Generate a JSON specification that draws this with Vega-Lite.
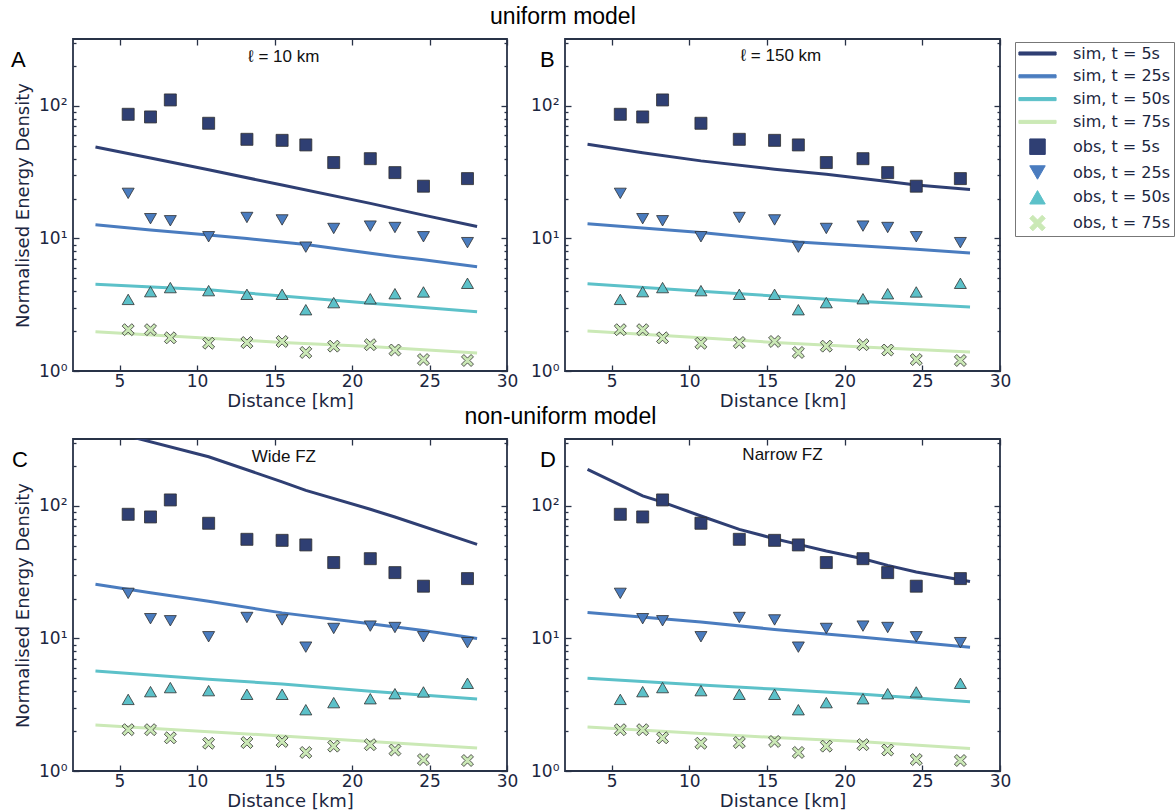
{
 "$schema": "https://vega.github.io/schema/vega-lite/v6.json",
 "background": "white",
 "padding": {"left": 10, "top": 5, "right": 5, "bottom": 5},
 "config": {
  "font": "DejaVu Sans",
  "view": {"stroke": "#283247", "strokeWidth": 1.8},
  "axis": {"grid": false, "domain": false, "labelFont": "DejaVu Sans", "labelFontSize": 17, "labelColor": "#1c2640", "titleFont": "DejaVu Sans", "titleFontSize": 18, "titleFontWeight": "normal", "titleColor": "#1c2640", "tickColor": "#283247", "tickWidth": 1.3, "labelFlush": false, "labelOverlap": false},
  "legend": {"symbolSize": 240, "symbolStrokeWidth": 1, "labelFont": "DejaVu Sans", "labelFontSize": 16, "labelColor": "#1c2640", "strokeColor": "#777", "padding": 3, "rowPadding": 5.8, "fillColor": "white", "labelOffset": 27, "symbolOffset": 11},
  "title": {"font": "Liberation Sans", "fontWeight": "normal", "color": "#000"}
 },
 "datasets": {
  "obs": [
   {"series": "obs, t = 5s", "x": 5.56, "y": 86.5}, {"series": "obs, t = 5s", "x": 7.0, "y": 82.6}, {"series": "obs, t = 5s", "x": 8.28, "y": 111}, {"series": "obs, t = 5s", "x": 10.75, "y": 74}, {"series": "obs, t = 5s", "x": 13.22, "y": 56}, {"series": "obs, t = 5s", "x": 15.49, "y": 55}, {"series": "obs, t = 5s", "x": 17.02, "y": 50.8}, {"series": "obs, t = 5s", "x": 18.82, "y": 37.4}, {"series": "obs, t = 5s", "x": 21.18, "y": 40}, {"series": "obs, t = 5s", "x": 22.77, "y": 31.4}, {"series": "obs, t = 5s", "x": 24.61, "y": 24.8}, {"series": "obs, t = 5s", "x": 27.45, "y": 28.3},
   {"series": "obs, t = 25s", "x": 5.56, "y": 21.9}, {"series": "obs, t = 25s", "x": 7.0, "y": 14.1}, {"series": "obs, t = 25s", "x": 8.28, "y": 13.6}, {"series": "obs, t = 25s", "x": 10.75, "y": 10.3}, {"series": "obs, t = 25s", "x": 13.22, "y": 14.4}, {"series": "obs, t = 25s", "x": 15.49, "y": 13.8}, {"series": "obs, t = 25s", "x": 17.02, "y": 8.6}, {"series": "obs, t = 25s", "x": 18.82, "y": 11.9}, {"series": "obs, t = 25s", "x": 21.18, "y": 12.4}, {"series": "obs, t = 25s", "x": 22.77, "y": 12.1}, {"series": "obs, t = 25s", "x": 24.61, "y": 10.3}, {"series": "obs, t = 25s", "x": 27.45, "y": 9.3},
   {"series": "obs, t = 50s", "x": 5.56, "y": 3.47}, {"series": "obs, t = 50s", "x": 7.0, "y": 3.97}, {"series": "obs, t = 50s", "x": 8.28, "y": 4.26}, {"series": "obs, t = 50s", "x": 10.75, "y": 4.04}, {"series": "obs, t = 50s", "x": 13.22, "y": 3.79}, {"series": "obs, t = 50s", "x": 15.49, "y": 3.79}, {"series": "obs, t = 50s", "x": 17.02, "y": 2.9}, {"series": "obs, t = 50s", "x": 18.82, "y": 3.28}, {"series": "obs, t = 50s", "x": 21.18, "y": 3.51}, {"series": "obs, t = 50s", "x": 22.77, "y": 3.83}, {"series": "obs, t = 50s", "x": 24.61, "y": 3.95}, {"series": "obs, t = 50s", "x": 27.45, "y": 4.59},
   {"series": "obs, t = 75s", "x": 5.56, "y": 2.05}, {"series": "obs, t = 75s", "x": 7.0, "y": 2.05}, {"series": "obs, t = 75s", "x": 8.28, "y": 1.78}, {"series": "obs, t = 75s", "x": 10.75, "y": 1.62}, {"series": "obs, t = 75s", "x": 13.22, "y": 1.64}, {"series": "obs, t = 75s", "x": 15.49, "y": 1.67}, {"series": "obs, t = 75s", "x": 17.02, "y": 1.38}, {"series": "obs, t = 75s", "x": 18.82, "y": 1.54}, {"series": "obs, t = 75s", "x": 21.18, "y": 1.58}, {"series": "obs, t = 75s", "x": 22.77, "y": 1.44}, {"series": "obs, t = 75s", "x": 24.61, "y": 1.22}, {"series": "obs, t = 75s", "x": 27.45, "y": 1.2}
  ],
  "sim": [
   {"panel": "A", "series": "sim, t = 5s", "x": 3.45, "y": 49}, {"panel": "A", "series": "sim, t = 5s", "x": 7, "y": 40.5}, {"panel": "A", "series": "sim, t = 5s", "x": 10.75, "y": 33}, {"panel": "A", "series": "sim, t = 5s", "x": 15.49, "y": 25.3}, {"panel": "A", "series": "sim, t = 5s", "x": 21.18, "y": 18.4}, {"panel": "A", "series": "sim, t = 5s", "x": 24.61, "y": 15}, {"panel": "A", "series": "sim, t = 5s", "x": 28.07, "y": 12.3},
   {"panel": "A", "series": "sim, t = 25s", "x": 3.45, "y": 12.7}, {"panel": "A", "series": "sim, t = 25s", "x": 7, "y": 11.6}, {"panel": "A", "series": "sim, t = 25s", "x": 10.75, "y": 10.6}, {"panel": "A", "series": "sim, t = 25s", "x": 13.22, "y": 10}, {"panel": "A", "series": "sim, t = 25s", "x": 17.02, "y": 9}, {"panel": "A", "series": "sim, t = 25s", "x": 22.77, "y": 7.3}, {"panel": "A", "series": "sim, t = 25s", "x": 24.61, "y": 6.9}, {"panel": "A", "series": "sim, t = 25s", "x": 28.07, "y": 6.13},
   {"panel": "A", "series": "sim, t = 50s", "x": 3.45, "y": 4.51}, {"panel": "A", "series": "sim, t = 50s", "x": 10.75, "y": 4.1}, {"panel": "A", "series": "sim, t = 50s", "x": 15.49, "y": 3.68}, {"panel": "A", "series": "sim, t = 50s", "x": 21.18, "y": 3.25}, {"panel": "A", "series": "sim, t = 50s", "x": 28.07, "y": 2.8},
   {"panel": "A", "series": "sim, t = 75s", "x": 3.45, "y": 1.98}, {"panel": "A", "series": "sim, t = 75s", "x": 10.75, "y": 1.77}, {"panel": "A", "series": "sim, t = 75s", "x": 15.49, "y": 1.64}, {"panel": "A", "series": "sim, t = 75s", "x": 21.18, "y": 1.53}, {"panel": "A", "series": "sim, t = 75s", "x": 28.07, "y": 1.37},
   {"panel": "B", "series": "sim, t = 5s", "x": 3.45, "y": 51.4}, {"panel": "B", "series": "sim, t = 5s", "x": 7, "y": 44.4}, {"panel": "B", "series": "sim, t = 5s", "x": 10.75, "y": 38.5}, {"panel": "B", "series": "sim, t = 5s", "x": 15.49, "y": 33.3}, {"panel": "B", "series": "sim, t = 5s", "x": 18.82, "y": 30.5}, {"panel": "B", "series": "sim, t = 5s", "x": 22.77, "y": 26.9}, {"panel": "B", "series": "sim, t = 5s", "x": 24.61, "y": 25.3}, {"panel": "B", "series": "sim, t = 5s", "x": 28.07, "y": 23.4},
   {"panel": "B", "series": "sim, t = 25s", "x": 3.45, "y": 12.9}, {"panel": "B", "series": "sim, t = 25s", "x": 10.75, "y": 11.1}, {"panel": "B", "series": "sim, t = 25s", "x": 17.02, "y": 9.4}, {"panel": "B", "series": "sim, t = 25s", "x": 24.61, "y": 8.3}, {"panel": "B", "series": "sim, t = 25s", "x": 28.07, "y": 7.78},
   {"panel": "B", "series": "sim, t = 50s", "x": 3.45, "y": 4.56}, {"panel": "B", "series": "sim, t = 50s", "x": 10.75, "y": 4.0}, {"panel": "B", "series": "sim, t = 50s", "x": 15.49, "y": 3.68}, {"panel": "B", "series": "sim, t = 50s", "x": 21.18, "y": 3.35}, {"panel": "B", "series": "sim, t = 50s", "x": 28.07, "y": 3.04},
   {"panel": "B", "series": "sim, t = 75s", "x": 3.45, "y": 2.0}, {"panel": "B", "series": "sim, t = 75s", "x": 10.75, "y": 1.78}, {"panel": "B", "series": "sim, t = 75s", "x": 15.49, "y": 1.64}, {"panel": "B", "series": "sim, t = 75s", "x": 21.18, "y": 1.52}, {"panel": "B", "series": "sim, t = 75s", "x": 28.07, "y": 1.39},
   {"panel": "C", "series": "sim, t = 5s", "x": 3.45, "y": 390}, {"panel": "C", "series": "sim, t = 5s", "x": 6.57, "y": 314}, {"panel": "C", "series": "sim, t = 5s", "x": 10.75, "y": 235}, {"panel": "C", "series": "sim, t = 5s", "x": 15.49, "y": 152}, {"panel": "C", "series": "sim, t = 5s", "x": 17.02, "y": 131}, {"panel": "C", "series": "sim, t = 5s", "x": 21.18, "y": 94.4}, {"panel": "C", "series": "sim, t = 5s", "x": 22.77, "y": 82.6}, {"panel": "C", "series": "sim, t = 5s", "x": 28.07, "y": 51.3},
   {"panel": "C", "series": "sim, t = 25s", "x": 3.45, "y": 25.7}, {"panel": "C", "series": "sim, t = 25s", "x": 7, "y": 22.1}, {"panel": "C", "series": "sim, t = 25s", "x": 10.75, "y": 19.1}, {"panel": "C", "series": "sim, t = 25s", "x": 15.49, "y": 15.6}, {"panel": "C", "series": "sim, t = 25s", "x": 21.18, "y": 12.9}, {"panel": "C", "series": "sim, t = 25s", "x": 24.61, "y": 11.5}, {"panel": "C", "series": "sim, t = 25s", "x": 28.07, "y": 10},
   {"panel": "C", "series": "sim, t = 50s", "x": 3.45, "y": 5.68}, {"panel": "C", "series": "sim, t = 50s", "x": 10.75, "y": 4.93}, {"panel": "C", "series": "sim, t = 50s", "x": 15.49, "y": 4.53}, {"panel": "C", "series": "sim, t = 50s", "x": 21.18, "y": 4.0}, {"panel": "C", "series": "sim, t = 50s", "x": 28.07, "y": 3.49},
   {"panel": "C", "series": "sim, t = 75s", "x": 3.45, "y": 2.22}, {"panel": "C", "series": "sim, t = 75s", "x": 10.75, "y": 1.98}, {"panel": "C", "series": "sim, t = 75s", "x": 15.49, "y": 1.84}, {"panel": "C", "series": "sim, t = 75s", "x": 21.18, "y": 1.67}, {"panel": "C", "series": "sim, t = 75s", "x": 28.07, "y": 1.49},
   {"panel": "D", "series": "sim, t = 5s", "x": 3.45, "y": 189}, {"panel": "D", "series": "sim, t = 5s", "x": 7, "y": 119}, {"panel": "D", "series": "sim, t = 5s", "x": 8.28, "y": 107}, {"panel": "D", "series": "sim, t = 5s", "x": 10.75, "y": 84}, {"panel": "D", "series": "sim, t = 5s", "x": 13.22, "y": 66.6}, {"panel": "D", "series": "sim, t = 5s", "x": 15.49, "y": 56.6}, {"panel": "D", "series": "sim, t = 5s", "x": 17.02, "y": 51.3}, {"panel": "D", "series": "sim, t = 5s", "x": 18.82, "y": 45.7}, {"panel": "D", "series": "sim, t = 5s", "x": 21.18, "y": 40}, {"panel": "D", "series": "sim, t = 5s", "x": 22.77, "y": 35.6}, {"panel": "D", "series": "sim, t = 5s", "x": 24.61, "y": 31.7}, {"panel": "D", "series": "sim, t = 5s", "x": 28.07, "y": 26.9},
   {"panel": "D", "series": "sim, t = 25s", "x": 3.45, "y": 15.7}, {"panel": "D", "series": "sim, t = 25s", "x": 10.75, "y": 13.3}, {"panel": "D", "series": "sim, t = 25s", "x": 15.49, "y": 11.7}, {"panel": "D", "series": "sim, t = 25s", "x": 21.18, "y": 10.2}, {"panel": "D", "series": "sim, t = 25s", "x": 24.61, "y": 9.35}, {"panel": "D", "series": "sim, t = 25s", "x": 28.07, "y": 8.58},
   {"panel": "D", "series": "sim, t = 50s", "x": 3.45, "y": 5.02}, {"panel": "D", "series": "sim, t = 50s", "x": 10.75, "y": 4.45}, {"panel": "D", "series": "sim, t = 50s", "x": 15.49, "y": 4.15}, {"panel": "D", "series": "sim, t = 50s", "x": 21.18, "y": 3.8}, {"panel": "D", "series": "sim, t = 50s", "x": 28.07, "y": 3.33},
   {"panel": "D", "series": "sim, t = 75s", "x": 3.45, "y": 2.15}, {"panel": "D", "series": "sim, t = 75s", "x": 10.75, "y": 1.92}, {"panel": "D", "series": "sim, t = 75s", "x": 15.49, "y": 1.79}, {"panel": "D", "series": "sim, t = 75s", "x": 21.18, "y": 1.66}, {"panel": "D", "series": "sim, t = 75s", "x": 28.07, "y": 1.48}
  ],
  "notes": [
   {"panel": "A", "label": "ℓ = 10 km", "x": 15.6, "y": 234},
   {"panel": "B", "label": "ℓ = 150 km", "x": 15.9, "y": 240},
   {"panel": "C", "label": "Wide FZ", "x": 15.6, "y": 235},
   {"panel": "D", "label": "Narrow FZ", "x": 16.0, "y": 241}
  ]
 },
 "spacing": -6,
 "vconcat": [
  {
   "title": {"text": "uniform model", "fontSize": 23, "anchor": "middle", "offset": 4, "dx": 52},
   "spacing": 10,
   "hconcat": [
    {
     "width": 434, "height": 332,
     "title": {"text": "A", "anchor": "start", "frame": "group", "dx": -62, "dy": 55, "offset": 0, "baseline": "alphabetic", "fontSize": 22},
     "layer": [
      {
       "data": {"name": "sim"},
       "transform": [{"filter": "datum.panel === 'A'"}],
       "mark": {"type": "line", "clip": true, "strokeWidth": 3},
       "encoding": {
        "x": {"field": "x", "type": "quantitative", "scale": {"domain": [2, 30], "nice": false, "zero": false}, "axis": {"orient": "bottom", "values": [5, 10, 15, 20, 25, 30], "tickSize": -6, "labelPadding": 8, "title": "Distance [km]", "titlePadding": 3}},
        "y": {"field": "y", "type": "quantitative", "scale": {"type": "log", "domain": [1, 320], "nice": false}, "axis": {"orient": "left", "values": [1, 2, 3, 4, 5, 6, 7, 8, 9, 10, 20, 30, 40, 50, 60, 70, 80, 90, 100, 200, 300], "labelExpr": "datum.value === 1 ? '10⁰' : datum.value === 10 ? '10¹' : datum.value === 100 ? '10²' : ''", "tickSize": {"condition": {"test": "datum.value === 1 || datum.value === 10 || datum.value === 100", "value": -6}, "value": -3}, "labelPadding": 12, "title": "Normalised Energy Density", "titlePadding": 6}},
        "color": {"field": "series", "type": "nominal", "scale": {"domain": ["sim, t = 5s", "sim, t = 25s", "sim, t = 50s", "sim, t = 75s", "obs, t = 5s", "obs, t = 25s", "obs, t = 50s", "obs, t = 75s"], "range": ["#2f3f73", "#4a7cbf", "#5cc1c9", "#cbe9b6", "#2f3f73", "#4a7cbf", "#5cc1c9", "#cbe9b6"]}, "legend": {"title": null, "orient": "none", "legendX": 942, "legendY": 3, "encode": {"symbols": {"update": {"fill": {"value": {"expr": "scale('color', datum.value)"}}, "stroke": {"value": {"expr": "indexof(datum.value, 'sim') === 0 ? scale('color', datum.value) : '#303030'"}}}}}}}
       }
      },
      {
       "data": {"name": "obs"},
       "mark": {"type": "point", "filled": true, "size": 144, "stroke": "#303030", "strokeWidth": 0.8, "opacity": 1},
       "encoding": {
        "x": {"field": "x", "type": "quantitative", "scale": {"domain": [2, 30], "nice": false, "zero": false}, "axis": {"orient": "top", "values": [5, 10, 15, 20, 25, 30], "tickSize": -6, "labels": false, "title": null, "minExtent": 0}},
        "y": {"field": "y", "type": "quantitative", "scale": {"type": "log", "domain": [1, 320], "nice": false}, "axis": {"orient": "right", "values": [1, 2, 3, 4, 5, 6, 7, 8, 9, 10, 20, 30, 40, 50, 60, 70, 80, 90, 100, 200, 300], "labels": false, "tickSize": {"condition": {"test": "datum.value === 1 || datum.value === 10 || datum.value === 100", "value": -6}, "value": -3}, "title": null, "minExtent": 0}},
        "color": {"field": "series", "type": "nominal", "legend": {"title": null, "orient": "none", "legendX": 942, "legendY": 3, "encode": {"symbols": {"update": {"fill": {"value": {"expr": "scale('color', datum.value)"}}, "stroke": {"value": {"expr": "indexof(datum.value, 'sim') === 0 ? scale('color', datum.value) : '#303030'"}}}}}}},
        "shape": {"field": "series", "type": "nominal", "scale": {"domain": ["sim, t = 5s", "sim, t = 25s", "sim, t = 50s", "sim, t = 75s", "obs, t = 5s", "obs, t = 25s", "obs, t = 50s", "obs, t = 75s"], "range": ["M-2.4,-0.2H2.4V0.2H-2.4Z", "M-2.4,-0.2H2.4V0.2H-2.4Z", "M-2.4,-0.2H2.4V0.2H-2.4Z", "M-2.4,-0.2H2.4V0.2H-2.4Z", "square", "triangle-down", "triangle-up", "M-1,-0.6L-0.6,-1L0,-0.4L0.6,-1L1,-0.6L0.4,0L1,0.6L0.6,1L0,0.4L-0.6,1L-1,0.6L-0.4,0Z"]}, "legend": {"title": null, "orient": "none", "legendX": 942, "legendY": 3, "encode": {"symbols": {"update": {"fill": {"value": {"expr": "scale('color', datum.value)"}}, "stroke": {"value": {"expr": "indexof(datum.value, 'sim') === 0 ? scale('color', datum.value) : '#303030'"}}}}}}}
       }
      },
      {
       "data": {"name": "notes"},
       "transform": [{"filter": "datum.panel === 'A'"}],
       "mark": {"type": "text", "font": "Liberation Sans", "fontSize": 17, "baseline": "middle", "align": "center", "color": "#111"},
       "encoding": {
        "x": {"field": "x", "type": "quantitative", "scale": {"domain": [2, 30], "nice": false, "zero": false}, "axis": null},
        "y": {"field": "y", "type": "quantitative", "scale": {"type": "log", "domain": [1, 320], "nice": false}, "axis": null},
        "text": {"field": "label"}
       }
      }
     ],
     "resolve": {"axis": {"x": "independent", "y": "independent"}}
    },
    {
     "width": 435, "height": 332,
     "title": {"text": "B", "anchor": "start", "frame": "group", "dx": -25, "dy": 55, "offset": 0, "baseline": "alphabetic", "fontSize": 22},
     "layer": [
      {
       "data": {"name": "sim"},
       "transform": [{"filter": "datum.panel === 'B'"}],
       "mark": {"type": "line", "clip": true, "strokeWidth": 3},
       "encoding": {
        "x": {"field": "x", "type": "quantitative", "scale": {"domain": [2, 30], "nice": false, "zero": false}, "axis": {"orient": "bottom", "values": [5, 10, 15, 20, 25, 30], "tickSize": -6, "labelPadding": 8, "title": "Distance [km]", "titlePadding": 3}},
        "y": {"field": "y", "type": "quantitative", "scale": {"type": "log", "domain": [1, 320], "nice": false}, "axis": {"orient": "left", "values": [1, 2, 3, 4, 5, 6, 7, 8, 9, 10, 20, 30, 40, 50, 60, 70, 80, 90, 100, 200, 300], "labelExpr": "datum.value === 1 ? '10⁰' : datum.value === 10 ? '10¹' : datum.value === 100 ? '10²' : ''", "tickSize": {"condition": {"test": "datum.value === 1 || datum.value === 10 || datum.value === 100", "value": -6}, "value": -3}, "labelPadding": 12, "title": null}},
        "color": {"field": "series", "type": "nominal", "legend": null}
       }
      },
      {
       "data": {"name": "obs"},
       "mark": {"type": "point", "filled": true, "size": 144, "stroke": "#303030", "strokeWidth": 0.8, "opacity": 1},
       "encoding": {
        "x": {"field": "x", "type": "quantitative", "scale": {"domain": [2, 30], "nice": false, "zero": false}, "axis": {"orient": "top", "values": [5, 10, 15, 20, 25, 30], "tickSize": -6, "labels": false, "title": null, "minExtent": 0}},
        "y": {"field": "y", "type": "quantitative", "scale": {"type": "log", "domain": [1, 320], "nice": false}, "axis": {"orient": "right", "values": [1, 2, 3, 4, 5, 6, 7, 8, 9, 10, 20, 30, 40, 50, 60, 70, 80, 90, 100, 200, 300], "labels": false, "tickSize": {"condition": {"test": "datum.value === 1 || datum.value === 10 || datum.value === 100", "value": -6}, "value": -3}, "title": null, "minExtent": 0}},
        "color": {"field": "series", "type": "nominal", "legend": null},
        "shape": {"field": "series", "type": "nominal", "legend": null}
       }
      },
      {
       "data": {"name": "notes"},
       "transform": [{"filter": "datum.panel === 'B'"}],
       "mark": {"type": "text", "font": "Liberation Sans", "fontSize": 17, "baseline": "middle", "align": "center", "color": "#111"},
       "encoding": {
        "x": {"field": "x", "type": "quantitative", "scale": {"domain": [2, 30], "nice": false, "zero": false}, "axis": null},
        "y": {"field": "y", "type": "quantitative", "scale": {"type": "log", "domain": [1, 320], "nice": false}, "axis": null},
        "text": {"field": "label"}
       }
      }
     ],
     "resolve": {"axis": {"x": "independent", "y": "independent"}}
    }
   ]
  },
  {
   "title": {"text": "non-uniform model", "fontSize": 23, "anchor": "middle", "offset": 4, "dx": 49},
   "spacing": 10,
   "hconcat": [
    {
     "width": 434, "height": 332,
     "title": {"text": "C", "anchor": "start", "frame": "group", "dx": -61, "dy": 55, "offset": 0, "baseline": "alphabetic", "fontSize": 22},
     "layer": [
      {
       "data": {"name": "sim"},
       "transform": [{"filter": "datum.panel === 'C'"}],
       "mark": {"type": "line", "clip": true, "strokeWidth": 3},
       "encoding": {
        "x": {"field": "x", "type": "quantitative", "scale": {"domain": [2, 30], "nice": false, "zero": false}, "axis": {"orient": "bottom", "values": [5, 10, 15, 20, 25, 30], "tickSize": -6, "labelPadding": 8, "title": "Distance [km]", "titlePadding": 3}},
        "y": {"field": "y", "type": "quantitative", "scale": {"type": "log", "domain": [1, 320], "nice": false}, "axis": {"orient": "left", "values": [1, 2, 3, 4, 5, 6, 7, 8, 9, 10, 20, 30, 40, 50, 60, 70, 80, 90, 100, 200, 300], "labelExpr": "datum.value === 1 ? '10⁰' : datum.value === 10 ? '10¹' : datum.value === 100 ? '10²' : ''", "tickSize": {"condition": {"test": "datum.value === 1 || datum.value === 10 || datum.value === 100", "value": -6}, "value": -3}, "labelPadding": 12, "title": "Normalised Energy Density", "titlePadding": 6}},
        "color": {"field": "series", "type": "nominal", "legend": null}
       }
      },
      {
       "data": {"name": "obs"},
       "mark": {"type": "point", "filled": true, "size": 144, "stroke": "#303030", "strokeWidth": 0.8, "opacity": 1},
       "encoding": {
        "x": {"field": "x", "type": "quantitative", "scale": {"domain": [2, 30], "nice": false, "zero": false}, "axis": {"orient": "top", "values": [5, 10, 15, 20, 25, 30], "tickSize": -6, "labels": false, "title": null, "minExtent": 0}},
        "y": {"field": "y", "type": "quantitative", "scale": {"type": "log", "domain": [1, 320], "nice": false}, "axis": {"orient": "right", "values": [1, 2, 3, 4, 5, 6, 7, 8, 9, 10, 20, 30, 40, 50, 60, 70, 80, 90, 100, 200, 300], "labels": false, "tickSize": {"condition": {"test": "datum.value === 1 || datum.value === 10 || datum.value === 100", "value": -6}, "value": -3}, "title": null, "minExtent": 0}},
        "color": {"field": "series", "type": "nominal", "legend": null},
        "shape": {"field": "series", "type": "nominal", "legend": null}
       }
      },
      {
       "data": {"name": "notes"},
       "transform": [{"filter": "datum.panel === 'C'"}],
       "mark": {"type": "text", "font": "Liberation Sans", "fontSize": 17, "baseline": "middle", "align": "center", "color": "#111"},
       "encoding": {
        "x": {"field": "x", "type": "quantitative", "scale": {"domain": [2, 30], "nice": false, "zero": false}, "axis": null},
        "y": {"field": "y", "type": "quantitative", "scale": {"type": "log", "domain": [1, 320], "nice": false}, "axis": null},
        "text": {"field": "label"}
       }
      }
     ],
     "resolve": {"axis": {"x": "independent", "y": "independent"}}
    },
    {
     "width": 435, "height": 332,
     "title": {"text": "D", "anchor": "start", "frame": "group", "dx": -25, "dy": 55, "offset": 0, "baseline": "alphabetic", "fontSize": 22},
     "layer": [
      {
       "data": {"name": "sim"},
       "transform": [{"filter": "datum.panel === 'D'"}],
       "mark": {"type": "line", "clip": true, "strokeWidth": 3},
       "encoding": {
        "x": {"field": "x", "type": "quantitative", "scale": {"domain": [2, 30], "nice": false, "zero": false}, "axis": {"orient": "bottom", "values": [5, 10, 15, 20, 25, 30], "tickSize": -6, "labelPadding": 8, "title": "Distance [km]", "titlePadding": 3}},
        "y": {"field": "y", "type": "quantitative", "scale": {"type": "log", "domain": [1, 320], "nice": false}, "axis": {"orient": "left", "values": [1, 2, 3, 4, 5, 6, 7, 8, 9, 10, 20, 30, 40, 50, 60, 70, 80, 90, 100, 200, 300], "labelExpr": "datum.value === 1 ? '10⁰' : datum.value === 10 ? '10¹' : datum.value === 100 ? '10²' : ''", "tickSize": {"condition": {"test": "datum.value === 1 || datum.value === 10 || datum.value === 100", "value": -6}, "value": -3}, "labelPadding": 12, "title": null}},
        "color": {"field": "series", "type": "nominal", "legend": null}
       }
      },
      {
       "data": {"name": "obs"},
       "mark": {"type": "point", "filled": true, "size": 144, "stroke": "#303030", "strokeWidth": 0.8, "opacity": 1},
       "encoding": {
        "x": {"field": "x", "type": "quantitative", "scale": {"domain": [2, 30], "nice": false, "zero": false}, "axis": {"orient": "top", "values": [5, 10, 15, 20, 25, 30], "tickSize": -6, "labels": false, "title": null, "minExtent": 0}},
        "y": {"field": "y", "type": "quantitative", "scale": {"type": "log", "domain": [1, 320], "nice": false}, "axis": {"orient": "right", "values": [1, 2, 3, 4, 5, 6, 7, 8, 9, 10, 20, 30, 40, 50, 60, 70, 80, 90, 100, 200, 300], "labels": false, "tickSize": {"condition": {"test": "datum.value === 1 || datum.value === 10 || datum.value === 100", "value": -6}, "value": -3}, "title": null, "minExtent": 0}},
        "color": {"field": "series", "type": "nominal", "legend": null},
        "shape": {"field": "series", "type": "nominal", "legend": null}
       }
      },
      {
       "data": {"name": "notes"},
       "transform": [{"filter": "datum.panel === 'D'"}],
       "mark": {"type": "text", "font": "Liberation Sans", "fontSize": 17, "baseline": "middle", "align": "center", "color": "#111"},
       "encoding": {
        "x": {"field": "x", "type": "quantitative", "scale": {"domain": [2, 30], "nice": false, "zero": false}, "axis": null},
        "y": {"field": "y", "type": "quantitative", "scale": {"type": "log", "domain": [1, 320], "nice": false}, "axis": null},
        "text": {"field": "label"}
       }
      }
     ],
     "resolve": {"axis": {"x": "independent", "y": "independent"}}
    }
   ]
  }
 ]
}
